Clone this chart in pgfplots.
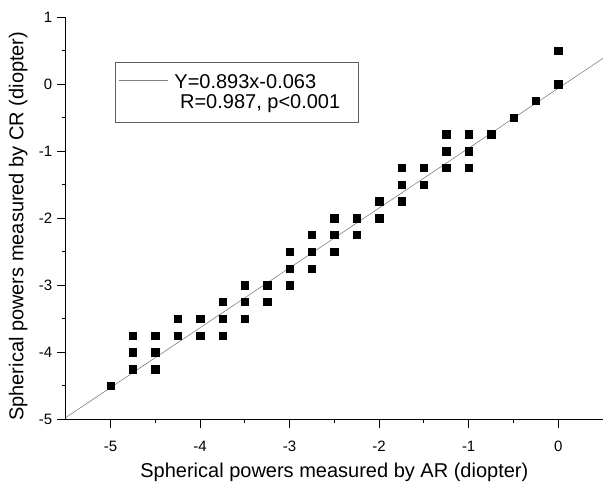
\documentclass[border=0pt]{standalone}
\usepackage{pgfplots}
\pgfplotsset{compat=1.18}
\usepackage{fontspec}
\setmainfont{Liberation Sans}
\definecolor{legframe}{RGB}{95,95,95}
\newcommand{\legtext}{\raisebox{0pt}[18.8pt][26.8pt]{\rlap{\raisebox{-20.6pt}{\hspace*{12.3pt}R=0.987, p<0.001}}\makebox[188.3pt][l]{\hspace*{6.6pt}Y=0.893x-0.063}}}
\begin{document}
\begin{tikzpicture}
\path[use as bounding box] (-65.7pt,-64.7pt) rectangle (537.3pt,419.3pt);
\begin{axis}[
  at={(0pt,0pt)}, anchor=south west,
  scale only axis, width=537.3pt, height=402.3pt,
  xmin=-5.5, xmax=0.5, ymin=-5, ymax=1,
  axis lines=left, axis line style={-, line width=1pt, black},
  xtick={-5,-4,-3,-2,-1,0}, ytick={-5,-4,-3,-2,-1,0,1},
  minor tick num=1,
  tick align=outside, major tick length=8.5pt, minor tick length=4pt,
  tick style={black, line width=1pt},
  /pgf/number format/assume math mode=true,
  xticklabel style={font=\fontsize{15}{17}\selectfont, yshift=-9.5pt},
  yticklabel style={font=\fontsize{15}{17}\selectfont, xshift=-1.5pt},
  every axis x label/.style={at={(axis description cs:0.5,0)}, anchor=base, yshift=-58.5pt, font=\fontsize{20}{24}\selectfont},
  every axis y label/.style={at={(axis description cs:-0.0789,0.48)}, anchor=base, rotate=90, font=\fontsize{20}{24}\selectfont},
  xlabel={Spherical powers measured by AR (diopter)},
  ylabel={Spherical powers measured by CR (diopter)},
  legend cell align=left,
  legend style={at={(axis description cs:0.0918,0.889)}, anchor=north west,
    draw=legframe, line width=1pt, inner xsep=2.7pt, inner ysep=7.2pt,
    font=\fontsize{20}{24}\selectfont,
    nodes={inner sep=0pt, text height=, text depth=}, cells={anchor=base west}},
  legend image code/.code={\draw[#1] (0pt,7.7pt) -- (49pt,7.7pt);},
]
\addplot[only marks, mark=square*, mark size=3.7pt, mark options={fill=black, draw=black}, forget plot] coordinates {
(-5,-4.5)
(-4.75,-3.75) (-4.75,-4.0) (-4.75,-4.25)
(-4.5,-3.75) (-4.5,-4.0) (-4.5,-4.25)
(-4.25,-3.5) (-4.25,-3.75)
(-4.0,-3.5) (-4.0,-3.75)
(-3.75,-3.25) (-3.75,-3.5) (-3.75,-3.75)
(-3.5,-3.0) (-3.5,-3.25) (-3.5,-3.5)
(-3.25,-3.0) (-3.25,-3.25)
(-3.0,-2.5) (-3.0,-2.75) (-3.0,-3.0)
(-2.75,-2.25) (-2.75,-2.5) (-2.75,-2.75)
(-2.5,-2.0) (-2.5,-2.25) (-2.5,-2.5)
(-2.25,-2.0) (-2.25,-2.25)
(-2.0,-1.75) (-2.0,-2.0)
(-1.75,-1.25) (-1.75,-1.5) (-1.75,-1.75)
(-1.5,-1.25) (-1.5,-1.5)
(-1.25,-0.75) (-1.25,-1.0) (-1.25,-1.25)
(-1.0,-0.75) (-1.0,-1.0) (-1.0,-1.25)
(-0.75,-0.75)
(-0.5,-0.5)
(-0.25,-0.25)
(0,0.5) (0,0)
};
\addplot[gray, line width=0.6pt] coordinates {(-5.5,-4.9745) (0.5,0.3835)};
\addlegendentry{\legtext}
\end{axis}
\end{tikzpicture}
\end{document}
